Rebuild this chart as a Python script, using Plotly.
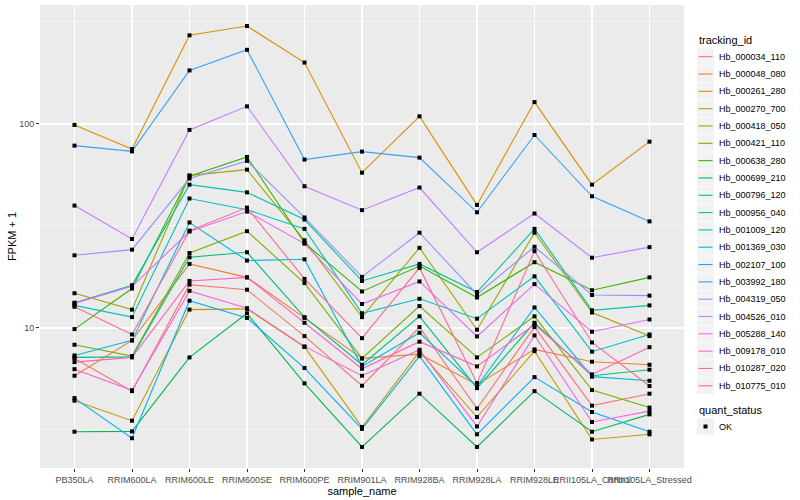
import plotly.graph_objects as go

samples = ["PB350LA", "RRIM600LA", "RRIM600LE", "RRIM600SE", "RRIM600PE", "RRIM901LA",
           "RRIM928BA", "RRIM928LA", "RRIM928LE", "RRII105LA_Control", "RRII105LA_Stressed"]

tracking_ids = ["Hb_000034_110", "Hb_000048_080", "Hb_000261_280", "Hb_000270_700",
                "Hb_000418_050", "Hb_000421_110", "Hb_000638_280", "Hb_000699_210",
                "Hb_000796_120", "Hb_000956_040", "Hb_001009_120", "Hb_001369_030",
                "Hb_002107_100", "Hb_003992_180", "Hb_004319_050", "Hb_004526_010",
                "Hb_005288_140", "Hb_009178_010", "Hb_010287_020", "Hb_010775_010"]

# FPKM + 1 per sample, one list per gene
hb_000034_110 = [7.09, 4.90, 16.3, 15.4, 9.12, 5.21, 10.1, 4.03, 10.1, 4.16, 4.76]
hb_000048_080 = [5.83, 8.69, 20.6, 17.7, 11.2, 7.09, 7.44, 5.27, 7.85, 6.83, 6.60]
hb_000261_280 = [98.9, 75.4, 272, 302, 200, 57.7, 109, 40.1, 128, 50.4, 81.9]
hb_000270_700 = [4.40, 3.51, 12.3, 12.4, 8.07, 3.27, 7.65, 3.66, 7.70, 2.84, 3.01]
hb_000418_050 = [14.8, 12.3, 56.0, 59.7, 26.9, 11.3, 24.7, 9.80, 29.3, 11.9, 9.12]
hb_000421_110 = [8.27, 7.28, 23.3, 29.8, 16.6, 7.09, 12.8, 7.17, 11.4, 4.96, 4.07]
hb_000638_280 = [9.87, 15.6, 55.4, 68.9, 26.1, 15.1, 20.1, 14.1, 21.0, 15.3, 17.7]
hb_000699_210 = [3.10, 3.11, 7.17, 11.8, 5.35, 2.61, 4.76, 2.61, 4.90, 3.10, 3.77]
hb_000796_120 = [7.17, 7.21, 22.2, 23.5, 11.3, 6.60, 11.4, 5.07, 10.6, 5.83, 6.24]
hb_000956_040 = [13.3, 16.2, 50.4, 46.2, 34.0, 17.0, 20.6, 15.0, 30.6, 12.2, 12.9]
hb_001009_120 = [12.9, 11.3, 43.1, 38.0, 30.6, 11.8, 13.9, 11.1, 17.9, 7.65, 9.29]
hb_001369_030 = [7.33, 8.69, 32.9, 21.4, 21.7, 6.48, 9.47, 5.17, 12.6, 5.77, 5.51]
hb_002107_100 = [4.53, 2.88, 13.6, 11.2, 6.36, 3.20, 7.28, 3.01, 5.74, 3.87, 3.10]
hb_003992_180 = [78.3, 73.4, 183, 231, 66.9, 73.2, 68.4, 36.9, 88.3, 44.2, 33.3]
hb_004319_050 = [22.7, 24.2, 54.0, 65.9, 34.8, 17.8, 29.3, 14.6, 25.0, 14.5, 14.4]
hb_004526_010 = [39.8, 27.3, 93.5, 122, 49.5, 37.8, 48.8, 23.5, 36.4, 22.1, 24.9]
hb_005288_140 = [13.2, 16.0, 29.7, 37.2, 25.9, 13.1, 16.9, 9.09, 16.4, 9.58, 11.0]
hb_009178_010 = [6.28, 4.95, 15.2, 12.5, 8.12, 5.83, 7.82, 3.29, 9.19, 3.46, 3.91]
hb_010287_020 = [6.80, 7.17, 17.0, 17.7, 10.6, 6.31, 8.56, 6.48, 10.4, 5.92, 8.05]
hb_010775_010 = [12.7, 9.29, 30.0, 38.9, 17.4, 8.91, 19.7, 5.37, 23.8, 8.49, 5.19]

series = [hb_000034_110, hb_000048_080, hb_000261_280, hb_000270_700, hb_000418_050,
          hb_000421_110, hb_000638_280, hb_000699_210, hb_000796_120, hb_000956_040,
          hb_001009_120, hb_001369_030, hb_002107_100, hb_003992_180, hb_004319_050,
          hb_004526_010, hb_005288_140, hb_009178_010, hb_010287_020, hb_010775_010]

quant_status = ["OK"]

# ggplot2 default hue palette for 20 levels
palette = ["#F8766D", "#EA8331", "#D89000", "#C09B00", "#A3A500", "#7CAE00", "#39B600",
           "#00BB4E", "#00BF7D", "#00C1A3", "#00BFC4", "#00BAE0", "#00B0F6", "#35A2FF",
           "#9590FF", "#C77CFF", "#E76BF3", "#FA62DB", "#FF62BC", "#FF6C91"]

FONT = "Liberation Sans, Arial, Helvetica, sans-serif"
W, H = 800, 500
ML, MR, MT, MB = 40, 116, 5, 32
PW, PH = W - ML - MR, H - MT - MB


def px(xp):
    return (xp - ML) / PW


def py(yp):
    return 1 - (yp - MT) / PH


fig = go.Figure()
for tid, vals, col in zip(tracking_ids, series, palette):
    fig.add_trace(go.Scatter(
        x=samples, y=vals, mode="lines", name=tid,
        line=dict(color=col, width=1.1), showlegend=False, hoverinfo="skip"))

all_x, all_y = [], []
for vals in series:
    all_x.extend(samples)
    all_y.extend(vals)
fig.add_trace(go.Scatter(
    x=all_x, y=all_y, mode="markers", name=quant_status[0],
    marker=dict(color="black", size=4, symbol="square"), showlegend=False))

# ggplot-style legends (key boxes + text)
shapes, annotations = [], []
KX0, KW = 697, 17
TX = 716.5
annotations.append(dict(text="tracking_id", x=px(KX0), y=py(40.5), xref="paper", yref="paper",
                        xanchor="left", yanchor="middle", showarrow=False,
                        font=dict(size=11, color="black")))
for i, (tid, col) in enumerate(zip(tracking_ids, palette)):
    cy = 56.7 + 17.32 * i
    shapes.append(dict(type="rect", xref="paper", yref="paper",
                       x0=px(KX0), x1=px(KX0 + KW), y0=py(cy - 8.3), y1=py(cy + 8.3),
                       fillcolor="#F2F2F2", line=dict(width=0), layer="above"))
    shapes.append(dict(type="line", xref="paper", yref="paper",
                       x0=px(KX0 + 1.5), x1=px(KX0 + KW - 1.5), y0=py(cy), y1=py(cy),
                       line=dict(color=col, width=1.1), layer="above"))
    annotations.append(dict(text=tid, x=px(TX), y=py(cy), xref="paper", yref="paper",
                            xanchor="left", yanchor="middle", showarrow=False,
                            font=dict(size=9, color="black")))

annotations.append(dict(text="quant_status", x=px(KX0), y=py(410), xref="paper", yref="paper",
                        xanchor="left", yanchor="middle", showarrow=False,
                        font=dict(size=11, color="black")))
cy = 426.5
shapes.append(dict(type="rect", xref="paper", yref="paper",
                   x0=px(KX0), x1=px(KX0 + KW), y0=py(cy - 8.3), y1=py(cy + 8.3),
                   fillcolor="#F2F2F2", line=dict(width=0), layer="above"))
shapes.append(dict(type="rect", xref="paper", yref="paper",
                   x0=px(KX0 + 6.5), x1=px(KX0 + 10.5), y0=py(cy - 2), y1=py(cy + 2),
                   fillcolor="black", line=dict(width=0), layer="above"))
annotations.append(dict(text=quant_status[0], x=px(TX), y=py(cy), xref="paper", yref="paper",
                        xanchor="left", yanchor="middle", showarrow=False,
                        font=dict(size=9, color="black")))

fig.update_layout(
    width=W, height=H,
    margin=dict(l=ML, r=MR, t=MT, b=MB, autoexpand=False),
    paper_bgcolor="white", plot_bgcolor="#EBEBEB",
    font=dict(family=FONT, size=9, color="black"),
    showlegend=False,
    shapes=shapes, annotations=annotations,
    xaxis=dict(
        type="category", categoryorder="array", categoryarray=samples,
        tickmode="array", tickvals=samples, ticktext=samples,
        range=[-0.6, 10.6], tickangle=0,
        showgrid=True, gridcolor="white", gridwidth=1.1, zeroline=False,
        ticks="outside", ticklen=3, tickcolor="#333333", tickwidth=1,
        tickfont=dict(size=9, color="#4D4D4D"),
        title=dict(text="sample_name", font=dict(size=11, color="black"), standoff=1),
        showline=False, automargin=False),
    yaxis=dict(
        type="log", range=[0.3134, 2.5832],
        tickmode="array", tickvals=[10, 100], ticktext=["10", "100"],
        showgrid=True, gridcolor="white", gridwidth=1.1, zeroline=False,
        ticks="outside", ticklen=3, tickcolor="#333333", tickwidth=1,
        tickfont=dict(size=9, color="#4D4D4D"),
        minor=dict(tickvals=[3.1623, 31.623, 316.23], showgrid=True,
                   gridcolor="white", gridwidth=0.55, ticks=""),
        title=dict(text="FPKM + 1", font=dict(size=11, color="black"), standoff=0),
        showline=False, automargin=False),
)

fig.write_html("out.html", config={"displayModeBar": False, "staticPlot": True},
               post_script="document.body.style.margin='0';")
